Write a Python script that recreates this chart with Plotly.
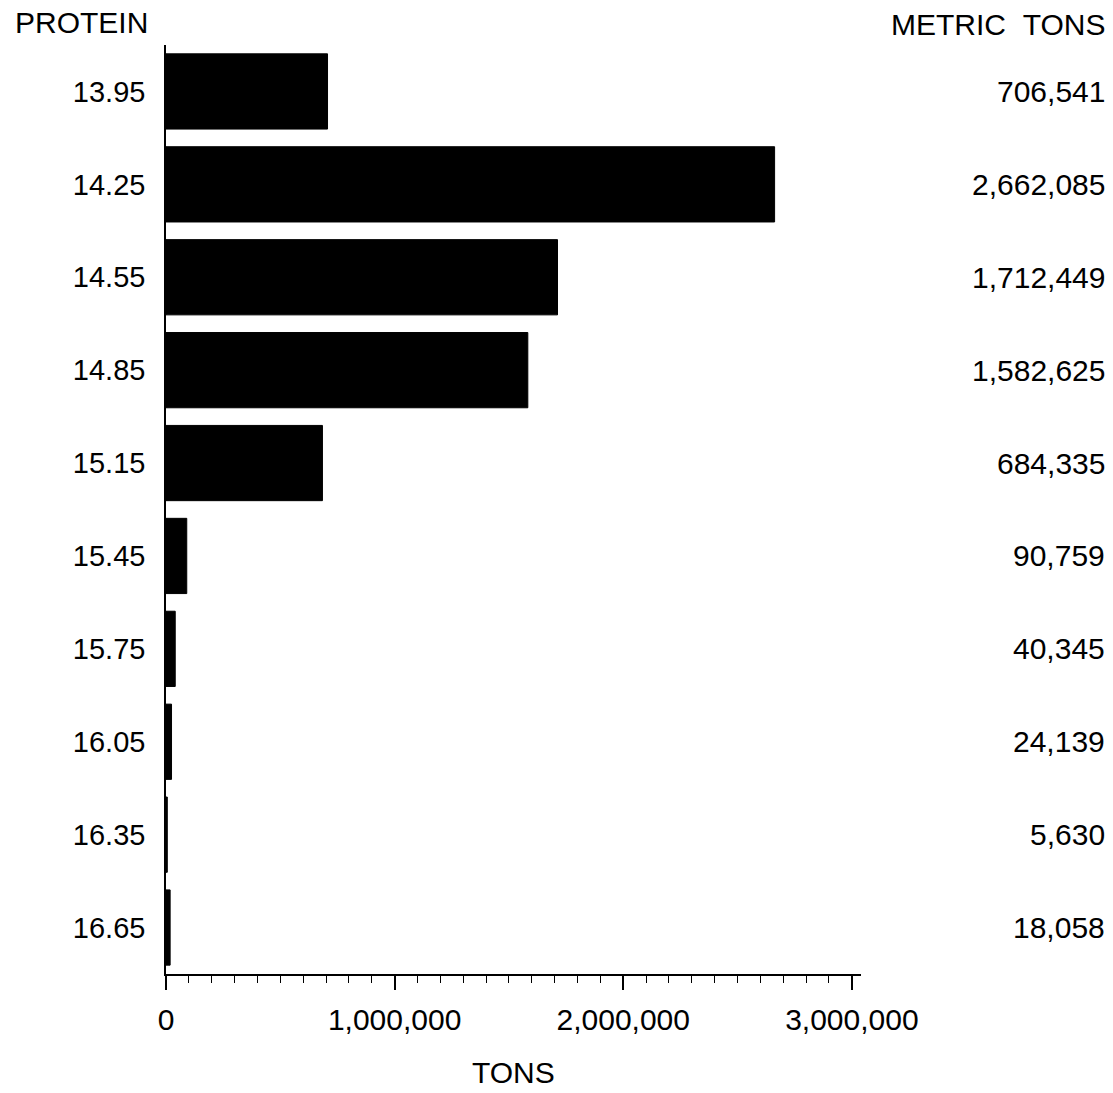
import plotly.graph_objects as go

protein = ["13.95", "14.25", "14.55", "14.85", "15.15", "15.45", "15.75", "16.05", "16.35", "16.65"]
tons = [706541, 2662085, 1712449, 1582625, 684335, 90759, 40345, 24139, 5630, 18058]
x_tickvals = [0, 1000000, 2000000, 3000000]
x_ticktext = ["0", "1,000,000", "2,000,000", "3,000,000"]

FONT = "Liberation Sans, Arial, Helvetica, sans-serif"
TXT = dict(family=FONT, size=28, color="black")
TXT29 = dict(family=FONT, size=29, color="black")
TXT30 = dict(family=FONT, size=30, color="black")

# page body has an 8px margin; figure size compensates
W, H = 1097, 1077
L, R, T, B = 158, 244, 37, 111
PW = W - L - R  # 695
PH = H - T - B  # 929

fig = go.Figure()
fig.add_trace(go.Bar(
    x=tons, y=protein, orientation="h",
    marker=dict(color="black", line=dict(color="black", width=1)),
    hoverinfo="x+y",
))

annotations = []
for i, t in enumerate(tons):
    annotations.append(dict(
        x=(W + 2 - L) / PW, xref="paper", y=i, yref="y", text=f"{t:,}",
        showarrow=False, xanchor="right", yanchor="middle", font=TXT30,
    ))
annotations.append(dict(
    x=(6 - L) / PW, xref="paper", y=1 + (T - 14) / PH, yref="paper",
    text="PROTEIN", showarrow=False, xanchor="left", yanchor="middle", font=TXT30,
    borderpad=0,
))
annotations.append(dict(
    x=(W + 2 - L) / PW, xref="paper", y=1 + (T - 16) / PH, yref="paper",
    text="METRIC\u00a0\u00a0TONS",
    showarrow=False, xanchor="right", yanchor="middle", font=TXT30,
))
annotations.append(dict(
    x=0.5, xref="paper", y=-(1064 - (H - B)) / PH, yref="paper",
    text="TONS", showarrow=False, xanchor="center", yanchor="middle", font=TXT30,
    borderpad=0,
))

fig.update_layout(
    width=W, height=H,
    margin=dict(l=L, r=R, t=T, b=B, autoexpand=False),
    paper_bgcolor="white", plot_bgcolor="white",
    showlegend=False,
    bargap=0.19,
    font=TXT,
    annotations=annotations,
    xaxis=dict(
        range=[0, 3040000], automargin=False,
        tickvals=x_tickvals, ticktext=x_ticktext,
        ticks="outside", ticklen=14, tickwidth=1.5, tickcolor="black",
        minor=dict(dtick=100000, tick0=0, ticks="outside", ticklen=7, tickwidth=1, tickcolor="black"),
        showline=True, linecolor="black", linewidth=1.5,
        showgrid=False, zeroline=False,
        tickfont=TXT30, ticklabelstandoff=4,
    ),
    yaxis=dict(
        type="category", automargin=False,
        categoryorder="array", categoryarray=protein,
        range=[9.5, -0.5],
        showline=True, linecolor="black", linewidth=1.5,
        ticks="outside", ticklen=13, tickcolor="rgba(0,0,0,0)",
        showgrid=False, zeroline=False,
        tickfont=TXT29,
    ),
)

fig.write_html("out.html")
